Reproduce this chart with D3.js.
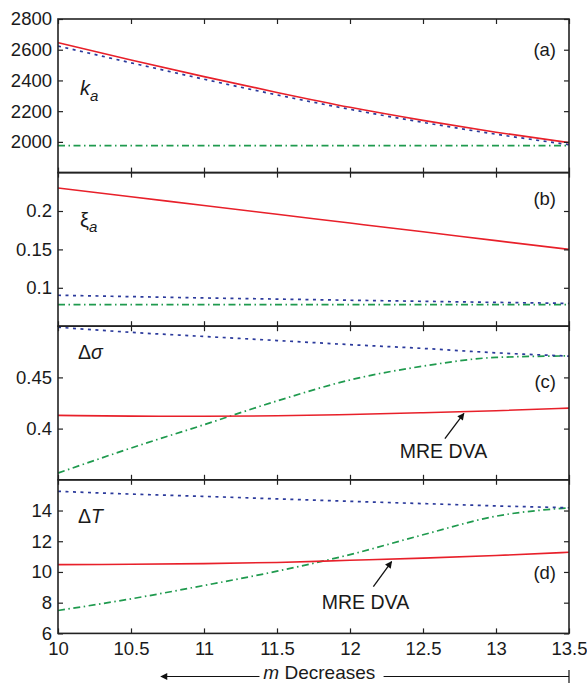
<!DOCTYPE html>
<html>
<head>
<meta charset="utf-8">
<script src="https://cdn.jsdelivr.net/npm/d3@7"></script>
<style>
  body { margin: 0; background: #fff; }
  text { font-family: "Liberation Sans", Arial, Helvetica, sans-serif; fill: #1a1a1a; }
</style>
</head>
<body>
<div id="chart"></div>
<script>
// x values (m) and the bottom tick labels
var mValues = [10, 10.5, 11, 11.5, 12, 12.5, 13, 13.5];
var xTicks = [10, 10.5, 11, 11.5, 12, 12.5, 13, 13.5];

// (a) k_a
var kaRed   = [2646, 2533, 2425, 2322, 2225, 2140, 2063, 1995];
var kaBlue  = [2624, 2515, 2408, 2306, 2212, 2127, 2050, 1982];
var kaGreen = [1976, 1976, 1976, 1976, 1976, 1976, 1976, 1976];
var kaDomain = [1800, 2800];
var kaTicks = [2000, 2200, 2400, 2600, 2800];

// (b) xi_a
var xiRed   = [0.230, 0.2186, 0.2071, 0.1957, 0.1843, 0.1729, 0.1614, 0.150];
var xiBlue  = [0.0903, 0.0885, 0.0868, 0.0853, 0.0838, 0.0824, 0.0810, 0.0797];
var xiGreen = [0.0782, 0.0782, 0.0782, 0.0782, 0.0782, 0.0782, 0.0782, 0.0782];
var xiDomain = [0.05, 0.25];
var xiTicks = [0.1, 0.15, 0.2];

// (c) delta sigma
var dsRed   = [0.4129, 0.4122, 0.4120, 0.4125, 0.4138, 0.4155, 0.4175, 0.4200];
var dsBlue  = [0.4990, 0.4940, 0.4900, 0.4860, 0.4820, 0.4783, 0.4740, 0.4708];
var dsGreen = [0.3566, 0.3810, 0.4038, 0.4270, 0.4475, 0.4610, 0.4695, 0.4710];
var dsDomain = [0.35, 0.5];
var dsTicks = [0.4, 0.45];

// (d) delta T
var dtRed   = [10.48, 10.50, 10.54, 10.62, 10.76, 10.90, 11.07, 11.28];
var dtBlue  = [15.25, 15.07, 14.92, 14.76, 14.60, 14.45, 14.30, 14.18];
var dtGreen = [7.49, 8.25, 9.12, 10.05, 11.13, 12.42, 13.63, 14.18];
var dtDomain = [6, 16];
var dtTicks = [6, 8, 10, 12, 14];

var panelLabels = ["(a)", "(b)", "(c)", "(d)"];

function initializeChart() {
    d3.select("#chart").select("svg").remove();

    var W = 587, H = 683;
    var margin = { top: 19, left: 58, right: 18 };
    var width = W - margin.left - margin.right,
        panelH = 153.6;

    var svg = d3.select("#chart").append("svg")
        .attr("width", W)
        .attr("height", H);

    // arrow head used by the annotations
    svg.append("defs").append("marker")
        .attr("id", "arrow")
        .attr("viewBox", "0 0 10 10")
        .attr("refX", 9).attr("refY", 5)
        .attr("markerWidth", 9).attr("markerHeight", 7)
        .attr("markerUnits", "userSpaceOnUse")
        .attr("orient", "auto")
        .append("path")
        .attr("d", "M0,0 L10,5 L0,10 Z")
        .attr("fill", "#111");

    var x = d3.scaleLinear().domain([10, 13.5]).range([0, width]);

    var colors = { red: "#e8202a", blue: "#2b3a9c", green: "#1f9a4e" };
    var dashes = { red: null, blue: "3,4.5", green: "7,3.5,1.5,3.5" };

    var panels = [
        { red: kaRed, blue: kaBlue, green: kaGreen, domain: kaDomain, ticks: kaTicks, labelY: 37 },
        { red: xiRed, blue: xiBlue, green: xiGreen, domain: xiDomain, ticks: xiTicks, labelY: 32 },
        { red: dsRed, blue: dsBlue, green: dsGreen, domain: dsDomain, ticks: dsTicks, labelY: 62 },
        { red: dtRed, blue: dtBlue, green: dtGreen, domain: dtDomain, ticks: dtTicks, labelY: 99.5 }
    ];

    var scales = [];

    panels.forEach(function (p, i) {
        var g = svg.append("g")
            .attr("transform", `translate(${margin.left},${margin.top + i * panelH})`);

        var y = d3.scaleLinear().domain(p.domain).range([panelH, 0]);
        scales.push({ g: g, y: y });

        g.append("clipPath").attr("id", "clip" + i)
            .append("rect").attr("width", width).attr("height", panelH);

        // the three curves
        ["green", "blue", "red"].forEach(function (key) {
            var pts = mValues.map(function (m, j) { return { m: m, v: p[key][j] }; });
            g.append("path")
                .datum(pts)
                .attr("clip-path", `url(#clip${i})`)
                .attr("fill", "none")
                .attr("stroke", colors[key])
                .attr("stroke-width", key == "red" ? 1.6 : 1.7)
                .attr("stroke-dasharray", dashes[key])
                .attr("d", d3.line()
                    .curve(d3.curveMonotoneX)
                    .x(d => x(d.m))
                    .y(d => y(d.v)));
        });

        // y axis left with labels, right without
        var left = g.append("g")
            .call(d3.axisLeft(y).tickValues(p.ticks).tickSize(-5).tickPadding(6)
                .tickFormat(d => String(d)));
        var right = g.append("g")
            .attr("transform", `translate(${width},0)`)
            .call(d3.axisRight(y).tickValues(p.ticks).tickSize(-5).tickFormat(""));

        // x ticks on top and bottom of every box
        var top = g.append("g")
            .call(d3.axisTop(x).tickValues(xTicks).tickSize(-5).tickFormat(""));
        var bottom = g.append("g")
            .attr("transform", `translate(0,${panelH})`)
            .call(d3.axisBottom(x).tickValues(xTicks).tickSize(-5).tickPadding(8)
                .tickFormat(i == 3 ? (d => String(d)) : ""));

        [left, right, top, bottom].forEach(function (a) {
            a.select(".domain").remove();
            a.selectAll("line").attr("stroke", "#222").attr("stroke-width", 1.2);
            a.selectAll("text").attr("font-size", 18.5).attr("fill", "#1a1a1a")
                .attr("font-family", "Liberation Sans, Arial, sans-serif");
        });

        g.append("rect")
            .attr("width", width).attr("height", panelH)
            .attr("fill", "none")
            .attr("stroke", "#222")
            .attr("stroke-width", 1.6);

        g.append("text")
            .attr("x", width - 13)
            .attr("y", p.labelY)
            .attr("text-anchor", "end")
            .attr("font-size", 18.5)
            .text(panelLabels[i]);
    });

    // panel variable names
    var ta = scales[0].g.append("text").attr("x", 22).attr("y", 76).attr("font-size", 20);
    ta.append("tspan").attr("font-style", "italic").text("k");
    ta.append("tspan").attr("font-style", "italic").attr("font-size", 15).attr("dy", 6).text("a");

    var tb = scales[1].g.append("text").attr("x", 22).attr("y", 54.5).attr("font-size", 20);
    tb.append("tspan").text("ξ");
    tb.append("tspan").attr("font-style", "italic").attr("font-size", 15).attr("dy", 5).text("a");

    var tc = scales[2].g.append("text").attr("x", 20).attr("y", 33).attr("font-size", 19.5);
    tc.append("tspan").text("Δ");
    tc.append("tspan").attr("font-style", "italic").text("σ");

    var td = scales[3].g.append("text").attr("x", 20).attr("y", 43.5).attr("font-size", 19.5);
    td.append("tspan").text("Δ");
    td.append("tspan").attr("font-style", "italic").text("T");

    // "MRE DVA" annotations pointing at the red curve
    var notes = [
        { p: 2, tail: [12.65, 0.3902], tip: [12.78, 0.4148], text: [12.64, 0.3712] },
        { p: 3, tail: [12.16, 9.05], tip: [12.285, 10.68], text: [12.106, 7.6] }
    ];
    notes.forEach(function (n) {
        var g = scales[n.p].g, y = scales[n.p].y;
        g.append("line")
            .attr("x1", x(n.tail[0])).attr("y1", y(n.tail[1]))
            .attr("x2", x(n.tip[0])).attr("y2", y(n.tip[1]))
            .attr("stroke", "#111").attr("stroke-width", 1.3)
            .attr("marker-end", "url(#arrow)");
        g.append("text")
            .attr("x", x(n.text[0])).attr("y", y(n.text[1]))
            .attr("text-anchor", "middle")
            .attr("font-size", 19.5)
            .text("MRE DVA");
    });

    // "m Decreases" arrow below the x axis
    var ay = 676.5;
    var ax = svg.append("g").attr("transform", `translate(${margin.left},0)`);
    ax.append("line")
        .attr("x1", x(11.38)).attr("x2", x(10.705))
        .attr("y1", ay).attr("y2", ay)
        .attr("stroke", "#111").attr("stroke-width", 1.2)
        .attr("marker-end", "url(#arrow)");
    ax.append("line")
        .attr("x1", x(12.23)).attr("x2", x(13.5))
        .attr("y1", ay).attr("y2", ay)
        .attr("stroke", "#111").attr("stroke-width", 1.2);
    ax.append("line")
        .attr("x1", x(13.5)).attr("x2", x(13.5))
        .attr("y1", 670).attr("y2", H)
        .attr("stroke", "#111").attr("stroke-width", 1.2);
    var tm = ax.append("text")
        .attr("x", x(11.79)).attr("y", 679)
        .attr("text-anchor", "middle")
        .attr("font-size", 19);
    tm.append("tspan").attr("font-style", "italic").text("m");
    tm.append("tspan").text(" Decreases");
}

document.addEventListener('DOMContentLoaded', initializeChart);
</script>
</body>
</html>
